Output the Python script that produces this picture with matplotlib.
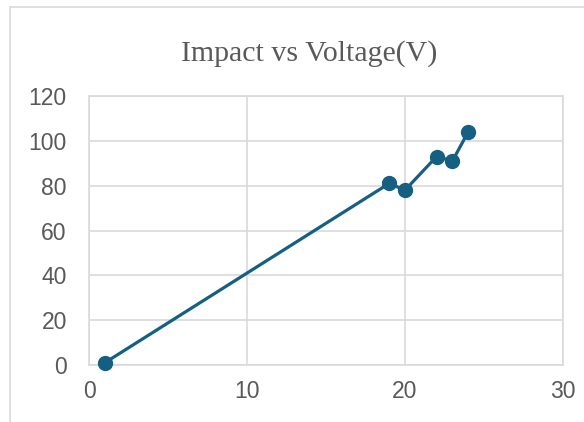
import matplotlib
matplotlib.use("Agg")
from matplotlib import pyplot as plt
from matplotlib.patches import Rectangle

# Impact vs Voltage chart (Excel style scatter with lines)

voltage = [1, 19, 20, 22, 23, 24]
impact = [1, 81, 78, 93, 91, 104]

x_ticks = [0, 10, 20, 30]
y_ticks = [0, 20, 40, 60, 80, 100, 120]

line_color = "#156082"
grid_color = "#D9D9D9"
text_color = "#595959"


def main():
    fig = plt.figure(figsize=(5.84, 4.22), dpi=100)
    fig.patch.set_facecolor("white")

    # chart area border (only left and top edges are inside the picture)
    fig.patches.append(Rectangle((10 / 584, -0.1), 1.2, (422 - 7) / 422 + 0.1,
                                 transform=fig.transFigure, fill=False,
                                 edgecolor=grid_color, linewidth=1.2))

    ax = fig.add_axes([89 / 584, 57 / 422, (563 - 89) / 584, (365 - 96) / 422])
    ax.plot(voltage, impact, color=line_color, linewidth=2.3,
            marker="o", markersize=10, zorder=3, clip_on=False)

    ax.set_xlim(0, 30)
    ax.set_ylim(0, 120)
    ax.set_xticks(x_ticks)
    ax.set_yticks(y_ticks)

    ax.grid(True, color=grid_color, linewidth=1.2)
    ax.set_axisbelow(True)
    for side in ["top", "right", "left", "bottom"]:
        ax.spines[side].set_color(grid_color)
        ax.spines[side].set_linewidth(1.2)

    ax.tick_params(length=0, labelsize=16.5, labelcolor=text_color)
    ax.tick_params(axis="x", pad=11)
    ax.tick_params(axis="y", pad=16)
    for lbl in ax.get_xticklabels() + ax.get_yticklabels():
        lbl.set_family("Liberation Sans")

    fig.text(309 / 584, (422 - 61) / 422, "Impact vs Voltage(V)",
             family="Liberation Serif", fontsize=21.5, color=text_color,
             ha="center", va="baseline")

    plt.savefig("out.png", dpi=100)


if __name__ == "__main__":
    main()
